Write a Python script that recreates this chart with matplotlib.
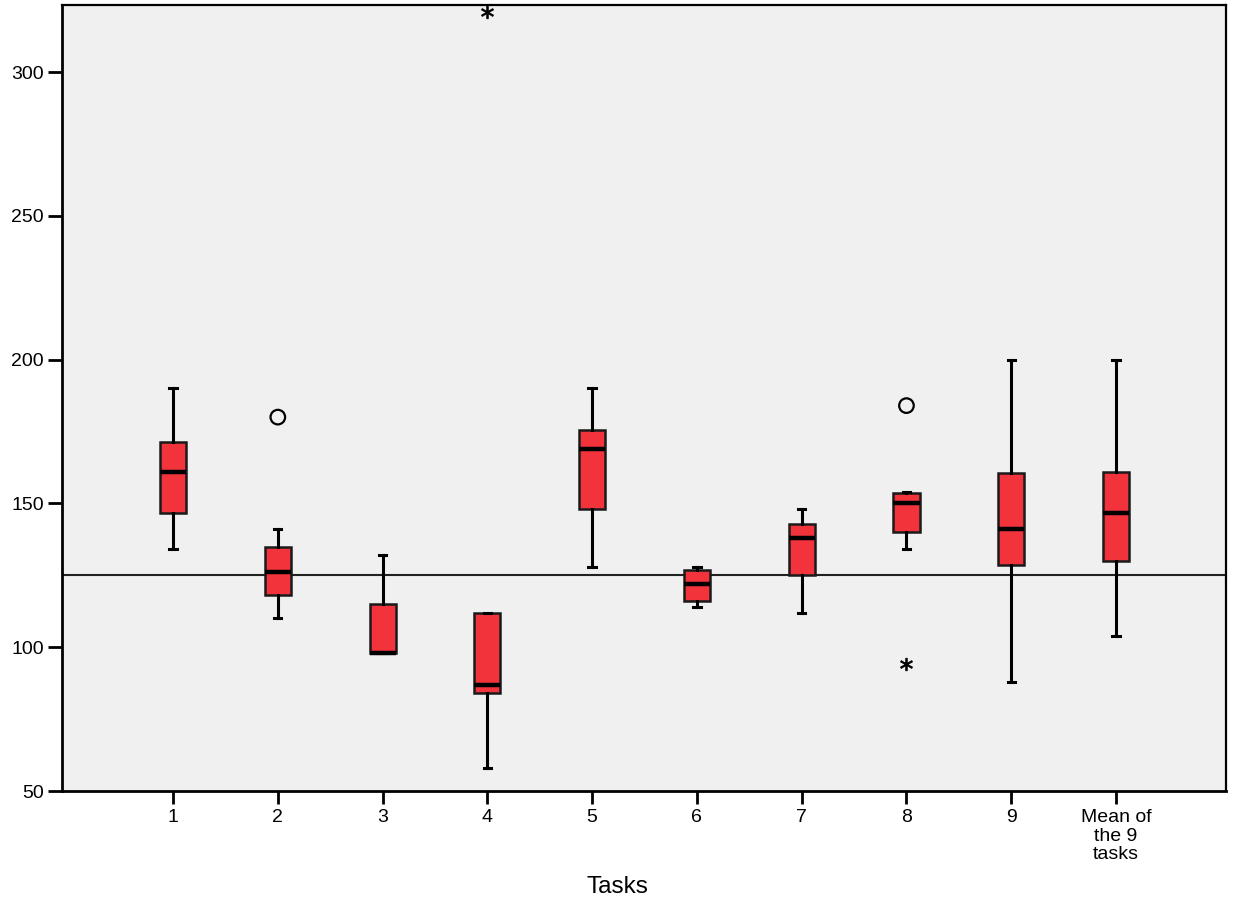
import matplotlib
matplotlib.use("Agg")
import matplotlib.pyplot as plt

plt.rcParams['font.family'] = ['Liberation Sans', 'DejaVu Sans']

# categories
labels = ['1', '2', '3', '4', '5', '6', '7', '8', '9', 'Mean of\nthe 9\ntasks']

# box statistics
whislo = [134, 110, 98, 58, 128, 114, 112, 134, 88, 104]
q1 = [146.5, 118, 98, 84, 148, 116, 125, 140, 128.5, 130]
med = [161, 126, 98, 87, 169, 122, 138, 150, 141, 146.5]
q3 = [171.5, 135, 115, 112, 175.5, 127, 143, 153.5, 160.5, 161]
whishi = [190, 141, 132, 112, 190, 128, 148, 154, 200, 200]

# outliers (circle) and extremes (star)
outlier_x = [2, 8]
outlier_y = [180, 184]
extreme_x = [4, 8]
extreme_y = [321, 94]

ref_value = 125

stats = []
for i in range(len(labels)):
    stats.append({'whislo': whislo[i], 'q1': q1[i], 'med': med[i],
                  'q3': q3[i], 'whishi': whishi[i], 'fliers': []})

fig = plt.figure(figsize=(12.34, 9.02), dpi=100)
ax = fig.add_axes([62/1234, 1 - 791/902, (1226-62)/1234, (791-5)/902])
ax.set_facecolor('#f0f0f0')

positions = list(range(1, len(labels) + 1))
ax.axhline(ref_value, color='#222222', lw=1.5, zorder=1)

ax.bxp(stats, positions=positions, widths=0.25, patch_artist=True,
       showfliers=False, capwidths=0.07,
       boxprops=dict(facecolor='#f2333b', edgecolor='#1a1a1a', linewidth=1.8),
       medianprops=dict(color='black', linewidth=3.2),
       whiskerprops=dict(color='black', linewidth=2.2),
       capprops=dict(color='black', linewidth=2.2),
       zorder=2)

ax.scatter(outlier_x, outlier_y, s=110, facecolors='none', edgecolors='black',
           linewidths=1.6, marker='o', zorder=3)
ax.scatter(extreme_x, extreme_y, s=80, color='black', marker='$*$',
           linewidths=0.6, zorder=3, clip_on=False)

ax.set_xlim(-0.06, 11.05)
ax.set_ylim(50, 323.3)
ax.set_xticks(positions)
ax.set_xticklabels(labels, fontsize=14, linespacing=1.12)
ax.set_yticks([50, 100, 150, 200, 250, 300])
ax.tick_params(axis='y', length=10, width=2, labelsize=14, pad=3)
ax.tick_params(axis='x', length=9, width=2, labelsize=14, pad=4)
for side in ['left', 'bottom']:
    ax.spines[side].set_linewidth(2)
for side in ['top', 'right']:
    ax.spines[side].set_linewidth(1.6)

fig.text(617/1234, 1 - 887/902, 'Tasks', ha='center', va='center', fontsize=17.5)

fig.savefig('out.png', dpi=100)
